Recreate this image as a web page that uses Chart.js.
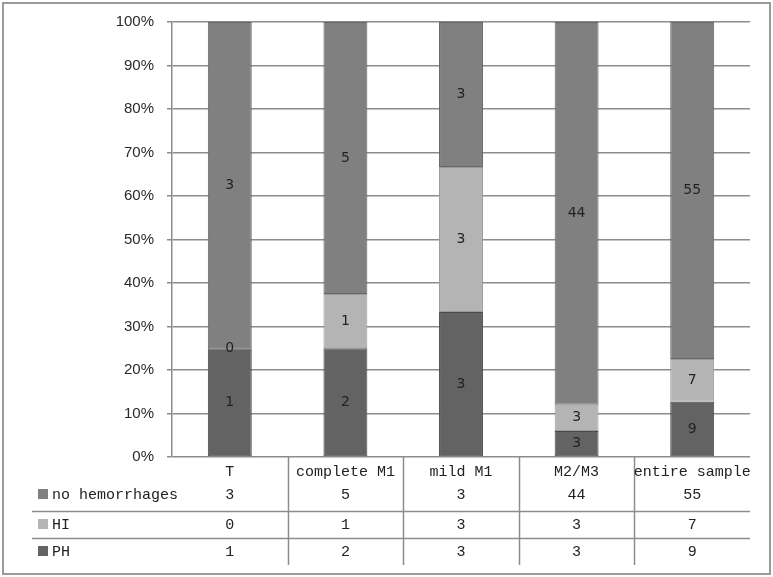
<!DOCTYPE html>
<html lang="en">
<head>
    <meta charset="UTF-8">
    <title>Hemorrhages by group</title>
    <script src="https://cdn.jsdelivr.net/npm/chart.js"></script>
    <style>
        body { margin: 0; padding: 0; background: #fff; }
        #wrap { width: 773px; height: 577px; position: relative; }
    </style>
</head>
<body>
    <div id="wrap"><canvas id="grafico" width="773" height="577"></canvas></div>

    <script>
        // categorias y conteos (de la tabla)
        const categories = ["T", "complete M1", "mild M1", "M2/M3", "entire sample"];
        const noHemorrhages = [3, 5, 3, 44, 55];
        const hi = [0, 1, 3, 3, 7];
        const ph = [1, 2, 3, 3, 9];
        const yTicks = [0, 10, 20, 30, 40, 50, 60, 70, 80, 90, 100];

        const totals = categories.map((_, i) => noHemorrhages[i] + hi[i] + ph[i]);
        const pct = arr => arr.map((v, i) => v / totals[i] * 100);

        // filas de la tabla, en el orden en que se ven (arriba a abajo)
        const rows = [
            { label: "no hemorrhages", counts: noHemorrhages, color: "#808080" },
            { label: "HI", counts: hi, color: "#b4b4b4" },
            { label: "PH", counts: ph, color: "#636363" }
        ];

        const monoFont = '15px "Liberation Mono", "Courier New", monospace';

        // numeros dentro de cada segmento
        const segmentLabels = {
            id: "segmentLabels",
            afterDatasetsDraw(chart) {
                const ctx = chart.ctx;
                ctx.save();
                ctx.font = '14px "DejaVu Sans", sans-serif';
                ctx.fillStyle = "#222";
                ctx.textAlign = "center";
                ctx.textBaseline = "middle";
                chart.data.datasets.forEach((ds, di) => {
                    const meta = chart.getDatasetMeta(di);
                    meta.data.forEach((bar, i) => {
                        const yMid = (bar.y + bar.base) / 2;
                        ctx.fillText(String(ds.counts[i]), bar.x, yMid);
                    });
                });
                ctx.restore();
            }
        };

        // tabla de datos debajo del grafico + marco exterior
        const dataTable = {
            id: "dataTable",
            afterDraw(chart) {
                const ctx = chart.ctx;
                const xs = chart.scales.x;
                const area = chart.chartArea;
                const n = categories.length;
                const centers = categories.map((_, i) => xs.getPixelForValue(i));
                const half = (centers[1] - centers[0]) / 2;
                const top = area.bottom;
                const catY = top + 15;
                const rowY = [top + 38, top + 68, top + 95];
                const lineY = [top + 54, top + 81];
                const tableLeft = 32;

                ctx.save();
                ctx.strokeStyle = "#8c8c8c";
                ctx.lineWidth = 1.5;
                // separadores verticales
                for (let i = 0; i < n - 1; i++) {
                    const x = Math.round(centers[i] + half) + 0.5;
                    ctx.beginPath();
                    ctx.moveTo(x, top);
                    ctx.lineTo(x, top + 108);
                    ctx.stroke();
                }
                // separadores horizontales
                lineY.forEach(y => {
                    ctx.beginPath();
                    ctx.moveTo(tableLeft, y + 0.5);
                    ctx.lineTo(area.right, y + 0.5);
                    ctx.stroke();
                });

                ctx.fillStyle = "#222";
                ctx.font = monoFont;
                ctx.textBaseline = "middle";
                ctx.textAlign = "center";
                categories.forEach((c, i) => ctx.fillText(c, centers[i], catY));

                rows.forEach((r, ri) => {
                    const y = rowY[ri];
                    ctx.fillStyle = r.color;
                    ctx.fillRect(38, y - 6, 10, 10);
                    ctx.fillStyle = "#222";
                    ctx.textAlign = "left";
                    ctx.fillText(r.label, 52, y);
                    ctx.textAlign = "center";
                    r.counts.forEach((v, i) => ctx.fillText(String(v), centers[i], y));
                });

                // marco
                ctx.strokeStyle = "#9a9a9a";
                ctx.lineWidth = 2;
                ctx.strokeRect(3, 3, chart.width - 6, chart.height - 6);
                ctx.restore();
            }
        };

        const ctx = document.getElementById("grafico").getContext("2d");
        new Chart(ctx, {
            type: "bar",
            data: {
                labels: categories,
                datasets: [
                    { label: "PH", data: pct(ph), counts: ph, backgroundColor: "#636363", borderColor: "#4a4a4a" },
                    { label: "HI", data: pct(hi), counts: hi, backgroundColor: "#b4b4b4", borderColor: "#9a9a9a" },
                    { label: "no hemorrhages", data: pct(noHemorrhages), counts: noHemorrhages, backgroundColor: "#808080", borderColor: "#666" }
                ]
            },
            options: {
                responsive: false,
                animation: false,
                layout: { padding: { left: 0, top: 22, right: 23, bottom: 120 } },
                datasets: {
                    bar: { barPercentage: 0.38, categoryPercentage: 1, borderWidth: 1, borderSkipped: false }
                },
                plugins: {
                    legend: { display: false },
                    tooltip: { enabled: false }
                },
                scales: {
                    x: {
                        stacked: true,
                        display: false
                    },
                    y: {
                        stacked: true,
                        min: 0,
                        max: 100,
                        afterFit(scale) { scale.width = 172; },
                        afterBuildTicks(scale) { scale.ticks = yTicks.map(v => ({ value: v })); },
                        ticks: {
                            callback: v => v + "%",
                            color: "#2a2a2a",
                            font: { family: "Liberation Sans", size: 15 },
                            padding: 13
                        },
                        grid: { color: "#8c8c8c", lineWidth: 1.5, tickLength: 5 },
                        border: { color: "#8c8c8c", width: 1.5 }
                    }
                }
            },
            plugins: [segmentLabels, dataTable]
        });
    </script>
</body>
</html>
